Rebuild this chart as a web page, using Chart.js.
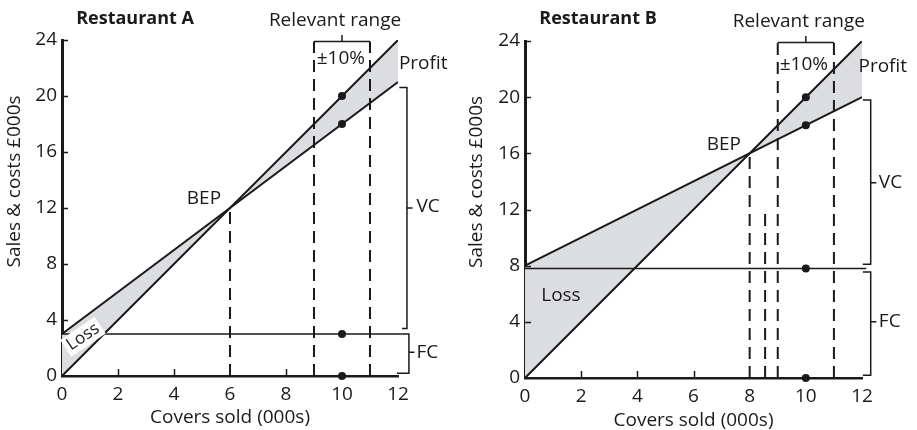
<!DOCTYPE html>
<html>
<head>
<meta charset="utf-8">
<script src="https://cdn.jsdelivr.net/npm/chart.js@4.4.0/dist/chart.umd.min.js"></script>
<style>
  body { margin: 0; background: #fff; }
  #wrap { position: relative; width: 917px; height: 430px; }
  canvas { position: absolute; top: 0; }
</style>
</head>
<body>
<div id="wrap">
  <canvas id="chartA" width="458" height="430" style="left:0"></canvas>
  <canvas id="chartB" width="459" height="430" style="left:458px"></canvas>
</div>
<script>
// covers sold (000s) at both ends of the sales / cost lines
const coverEnds = [0, 12];
const xTickLabels = [0, 2, 4, 6, 8, 10, 12];
const yTickLabels = [0, 4, 8, 12, 16, 20, 24];

// Restaurant A (£000s)
const salesA = [0, 24];
const costA = [3, 21];
const fixedA = 3;
const bepA = [6, 12];
const dotsA = [20, 18, 3, 0];
const vcA = [3.4, 20.6, 12];   // low, high, label
const fcA = [0.2, 3, 1.7];

// Restaurant B (£000s)
const salesB = [0, 24];
const costB = [8, 20];
const fixedB = 7.8;
const bepB = [8, 16];
const extraDashB = [8.55, 12];
const dotsB = [20, 18, 7.8, 0];
const vcB = [8.1, 19.8, 13.9];
const fcB = [0.2, 7.55, 4];

const budgetCovers = 10;
const relevantRange = [9, 11];
const rangeTop = 23.9;

const INK = '#1a1a1a';
const GREY = '#dcdde0';
const FONT = '"Open Sans", sans-serif';

function pts(xs, ys) {
  return xs.map((x, i) => ({ x: x, y: ys[i] }));
}

function line(data, extra) {
  return Object.assign({
    data: data,
    borderColor: INK,
    borderWidth: 2,
    pointRadius: 0,
    fill: false,
  }, extra || {});
}

function dashed(x, top) {
  return line(pts([x, x], [0, top]), { borderDash: [12, 7] });
}

function brace(r, xs) {
  // side bracket with a tip pointing at the label; xs = [inner top, inner bottom, spine]
  const s = xs[2];
  return line([
    { x: xs[0], y: r[1] }, { x: s, y: r[1] }, { x: s, y: r[2] },
    { x: s + 0.2, y: r[2] }, { x: s, y: r[2] }, { x: s, y: r[0] },
    { x: xs[1], y: r[0] },
  ], { borderWidth: 1.5, clip: false });
}

function rangeBracket() {
  const mid = (relevantRange[0] + relevantRange[1]) / 2;
  return line([
    { x: relevantRange[0], y: rangeTop }, { x: mid, y: rangeTop },
    { x: mid, y: rangeTop + 0.45 }, { x: mid, y: rangeTop },
    { x: relevantRange[1], y: rangeTop },
  ], { borderWidth: 1.5, clip: false });
}

const notesPlugin = {
  id: 'notes',
  afterDraw(chart, args, opts) {
    const { ctx } = chart;
    const sx = chart.scales.x, sy = chart.scales.y;
    ctx.save();
    // inward tick marks
    ctx.strokeStyle = INK;
    ctx.lineWidth = 1.5;
    opts.xMarks.forEach(v => {
      const px = Math.round(sx.getPixelForValue(v)) + 0.5;
      ctx.beginPath();
      ctx.moveTo(px, sy.bottom);
      ctx.lineTo(px, sy.bottom - 7);
      ctx.stroke();
    });
    yTickLabels.slice(1).forEach(v => {
      const py = Math.round(sy.getPixelForValue(v)) + 0.5;
      ctx.beginPath();
      ctx.moveTo(sx.left, py);
      ctx.lineTo(sx.left + 6, py);
      ctx.stroke();
    });
    ctx.fillStyle = INK;
    ctx.textBaseline = 'middle';
    opts.items.forEach(n => {
      const px = sx.getPixelForValue(n.x), py = sy.getPixelForValue(n.y);
      ctx.font = (n.bold ? 'bold ' : '') + (n.size || 19) + 'px ' + FONT;
      ctx.textAlign = n.align || 'center';
      ctx.save();
      ctx.translate(px, py);
      if (n.rot) ctx.rotate(n.rot * Math.PI / 180);
      if (n.box) {
        const w = ctx.measureText(n.text).width;
        ctx.fillStyle = '#fff';
        ctx.fillRect(-w / 2 - 3, -10, w + 6, 20);
        ctx.fillStyle = INK;
      }
      ctx.fillText(n.text, 0, 0);
      ctx.restore();
    });
    ctx.restore();
  }
};

function makeChart(id, d) {
  const datasets = [
    line(d.dots.map(v => ({ x: budgetCovers, y: v })), {
      showLine: false, pointRadius: 4, pointBackgroundColor: INK,
      pointBorderWidth: 0, clip: false,
    }),
    line(pts(coverEnds, d.sales), { fill: { target: 2, above: GREY, below: GREY } }),
    line(pts(coverEnds, d.cost)),
    line(pts([0, 12.15], [d.fixed, d.fixed]), { borderWidth: 1.5, clip: false }),
    dashed(d.bep[0], d.bep[1]),
    dashed(relevantRange[0], rangeTop),
    dashed(relevantRange[1], rangeTop),
    rangeBracket(),
    brace(d.vc, d.vcX),
    brace(d.fc, d.fcX),
  ];
  if (d.extra) datasets.push(dashed(d.extra[0], d.extra[1]));

  return new Chart(document.getElementById(id), {
    type: 'line',
    data: { datasets: datasets },
    plugins: [notesPlugin],
    options: {
      responsive: false,
      animation: false,
      layout: { padding: d.pad },
      plugins: {
        legend: { display: false },
        tooltip: { enabled: false },
        filler: { drawTime: 'beforeDatasetsDraw' },
        notes: { items: d.notes, xMarks: d.xMarks },
      },
      scales: {
        x: {
          type: 'linear', min: 0, max: 12,
          afterBuildTicks: s => { s.ticks = xTickLabels.map(v => ({ value: v })); },
          afterFit: s => { s.height = d.xHeight; },
          grid: { display: false, drawTicks: false },
          border: { display: true, color: INK, width: 2.5 },
          ticks: { color: INK, padding: 7, font: { family: FONT, size: 19 } },
        },
        y: {
          type: 'linear', min: 0, max: 24,
          afterBuildTicks: s => { s.ticks = yTickLabels.map(v => ({ value: v })); },
          afterFit: s => { s.width = d.yWidth; },
          grid: { display: false, drawTicks: false },
          border: { display: true, color: INK, width: 3 },
          ticks: { color: INK, padding: 5, font: { family: FONT, size: 19 } },
        },
      },
    },
  });
}

makeChart('chartA', {
  sales: salesA, cost: costA, fixed: fixedA, bep: bepA, dots: dotsA,
  vc: vcA, fc: fcA, vcX: [12.05, 12.14, 12.32], fcX: [12.15, 11.96, 12.39],
  xMarks: [2, 4, 8],
  pad: { top: 40, right: 60, left: 0, bottom: 0 }, yWidth: 62, xHeight: 54,
  notes: [
    { text: 'Restaurant A', x: 2.61, y: 25.5, bold: true, size: 18 },
    { text: 'Relevant range', x: 9.75, y: 25.36 },
    { text: '±10%', x: 9.96, y: 22.7 },
    { text: 'Profit', x: 12.9, y: 22.3 },
    { text: 'BEP', x: 5.07, y: 12.64 },
    { text: 'VC', x: 12.66, y: 12.07, align: 'left' },
    { text: 'FC', x: 12.66, y: 1.64, align: 'left' },
    { text: 'Loss', x: 0.75, y: 2.8, rot: -34, box: true, size: 17 },
    { text: 'Covers sold (000s)', x: 6, y: -3.0 },
    { text: 'Sales & costs £000s', x: -1.71, y: 13.9, rot: -90 },
  ],
});

makeChart('chartB', {
  sales: salesB, cost: costB, fixed: fixedB, bep: bepB, dots: dotsB,
  vc: vcB, fc: fcB, vcX: [12.03, 12.03, 12.31], fcX: [12.03, 12.03, 12.31],
  extra: extraDashB, xMarks: [2, 4, 6],
  pad: { top: 41, right: 55, left: 0, bottom: 0 }, yWidth: 67, xHeight: 52,
  notes: [
    { text: 'Restaurant B', x: 2.6, y: 25.57, bold: true, size: 18 },
    { text: 'Relevant range', x: 9.75, y: 25.4 },
    { text: '±10%', x: 9.93, y: 22.3 },
    { text: 'Profit', x: 12.74, y: 22.2 },
    { text: 'BEP', x: 7.08, y: 16.6 },
    { text: 'VC', x: 12.6, y: 13.9, align: 'left' },
    { text: 'FC', x: 12.6, y: 4.0, align: 'left' },
    { text: 'Loss', x: 1.28, y: 5.9 },
    { text: 'Covers sold (000s)', x: 6, y: -3.0 },
    { text: 'Sales & costs £000s', x: -1.74, y: 13.96, rot: -90 },
  ],
});
</script>
</body>
</html>
